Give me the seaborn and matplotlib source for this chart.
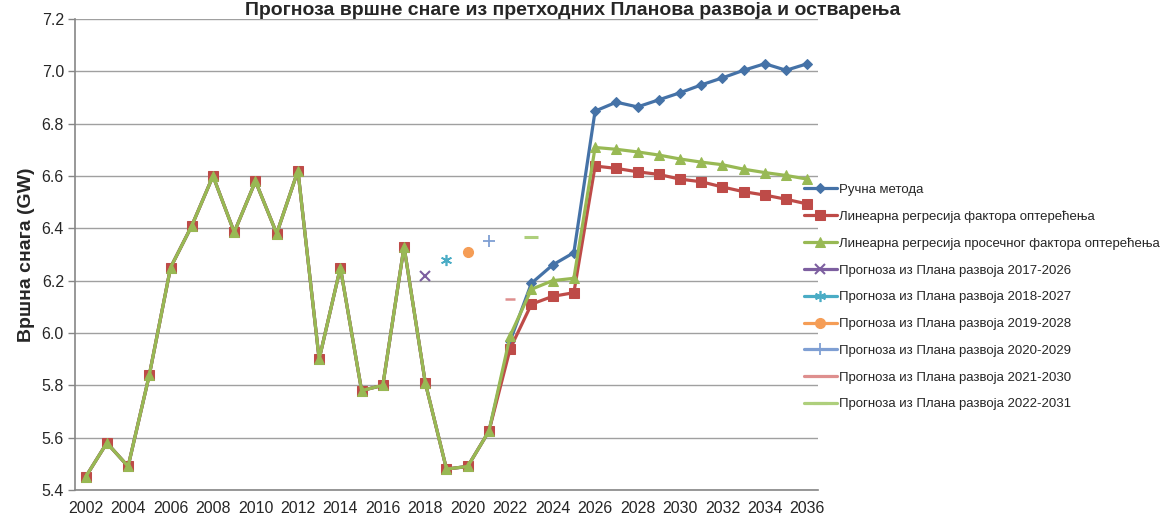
import numpy as np
import pandas as pd
import seaborn as sns
import matplotlib.pyplot as plt

sns.set_style("white")
plt.rcParams['font.family'] = ['Liberation Sans', 'DejaVu Sans']

years = list(range(2002, 2037))

# historic peak load 2002-2021 (same for all three methods)
history = [5.45, 5.58, 5.49, 5.84, 6.25, 6.41, 6.60, 6.385, 6.58, 6.38,
           6.62, 5.90, 6.25, 5.78, 5.80, 6.33, 5.81, 5.48, 5.49, 5.625]

manual = history + [5.97, 6.19, 6.26, 6.307, 6.848, 6.882, 6.864, 6.891, 6.918,
                    6.948, 6.975, 7.004, 7.029, 7.004, 7.029]
lin_reg = history + [5.94, 6.11, 6.14, 6.154, 6.638, 6.629, 6.616, 6.606, 6.588,
                     6.578, 6.558, 6.540, 6.527, 6.511, 6.493]
lin_reg_avg = history + [5.99, 6.167, 6.20, 6.209, 6.709, 6.702, 6.692, 6.680, 6.665,
                         6.653, 6.643, 6.626, 6.613, 6.602, 6.588]

plan_years = [2018, 2019, 2020, 2021, 2022, 2023]
plan_values = [6.218, 6.279, 6.309, 6.351, 6.13, 6.368]
plan_labels = ['Прогноза из Плана развоја 2017-2026',
               'Прогноза из Плана развоја 2018-2027',
               'Прогноза из Плана развоја 2019-2028',
               'Прогноза из Плана развоја 2020-2029',
               'Прогноза из Плана развоја 2021-2030',
               'Прогноза из Плана развоја 2022-2031']

df = pd.DataFrame({'year': years, 'manual': manual, 'lin': lin_reg, 'avg': lin_reg_avg})

fig = plt.figure(figsize=(11.69, 5.2), dpi=100)
ax = fig.add_axes([0.0642, 0.0577, 0.6355, 0.9058])

sns.lineplot(data=df, x='year', y='manual', ax=ax, color='#4572A7', marker='D',
             markersize=5.5, linewidth=2.3, markeredgecolor='#4572A7',
             label='Ручна метода')
sns.lineplot(data=df, x='year', y='lin', ax=ax, color='#BE4B48', marker='s',
             markersize=6.5, linewidth=2.3, markeredgecolor='#BE4B48',
             label='Линеарна регресија фактора оптерећења')
sns.lineplot(data=df, x='year', y='avg', ax=ax, color='#98B954', marker='^',
             markersize=7, linewidth=2.3, markeredgecolor='#98B954',
             label='Линеарна регресија просечног фактора оптерећења')

plan_styles = [('#7D5FA0', 'x', 7, 1.5), ('#4AACC5', (6, 2, 0), 8, 1.2),
               ('#F59D56', 'o', 7, 1), ('#7F9FD3', '+', 9, 1.3),
               ('#DE8F8E', '_', 7, 1.8), ('#AECF7C', '_', 10, 2.2)]
for yr, val, lab, (col, mk, ms, mew) in zip(plan_years, plan_values, plan_labels, plan_styles):
    sns.lineplot(x=[yr], y=[val], ax=ax, color=col, marker=mk, markersize=ms,
                 markeredgewidth=mew, markeredgecolor=col, linewidth=2.3, label=lab)

ax.set_xlim(2001.5, 2036.5)
ax.set_ylim(5.4, 7.2)
ax.set_xticks(range(2002, 2037, 2))
ax.set_xticks(np.arange(2001.5, 2037, 1), minor=True)
ax.set_yticks(np.arange(5.4, 7.21, 0.2))
ax.set_yticklabels([f'{v:.1f}' for v in np.arange(5.4, 7.21, 0.2)], fontsize=11.5)
ax.set_xticklabels([str(y) for y in range(2002, 2037, 2)], fontsize=11.5)
ax.tick_params(axis='x', which='major', length=0, pad=8)
ax.tick_params(axis='x', which='minor', length=5, color='#868686', width=1, direction='out')
ax.tick_params(axis='y', length=5, color='#868686', width=1, direction='out', left=True, pad=3)
ax.grid(axis='y', color='#A0A0A0', linewidth=1)
ax.set_axisbelow(True)
for side in ['top', 'right']:
    ax.spines[side].set_visible(False)
for side in ['left', 'bottom']:
    ax.spines[side].set_color('#868686')
    ax.spines[side].set_linewidth(1.2)

ax.set_xlabel('')
ax.set_ylabel('Вршна снага (GW)', fontsize=14, fontweight='bold', labelpad=5)

fig.text(0.49, 1 - 15 / 520, 'Прогноза вршне снаге из претходних Планова развоја и остварења',
         ha='center', va='baseline', fontsize=14, fontweight='bold')

ax.legend(loc='upper left', bbox_to_anchor=(0.683, 0.657), bbox_transform=fig.transFigure,
          frameon=False, fontsize=9.5, handlelength=2.5, handletextpad=0.2,
          labelspacing=1.1, borderaxespad=0)

fig.savefig('out.png', dpi=100)
